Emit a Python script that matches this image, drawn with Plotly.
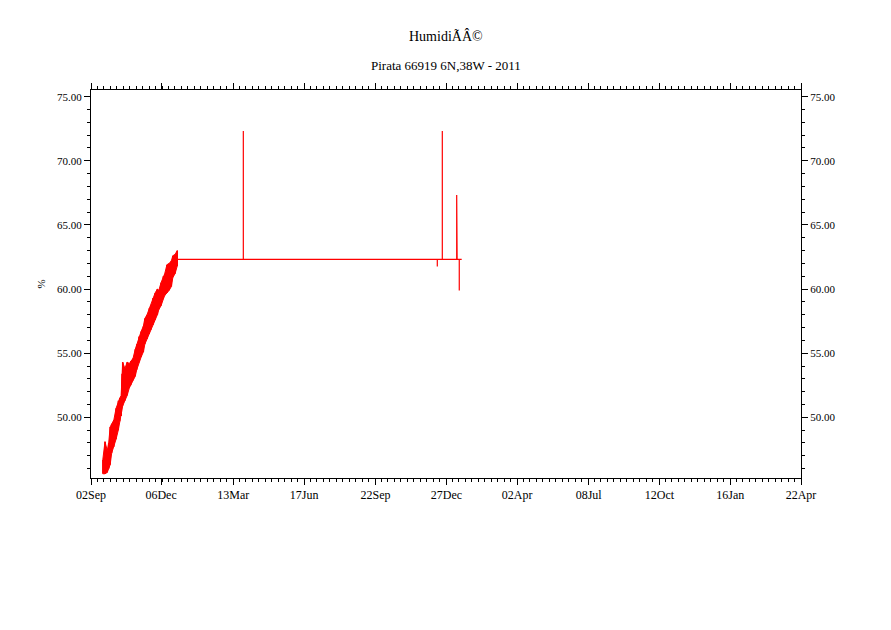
import pandas as pd
import plotly.graph_objects as go

# ---------------------------------------------------------------------------
# Data
# ---------------------------------------------------------------------------
START = "2011-09-02"
END = "2014-04-22"

# rising part: daily envelope (days since START, low / high humidity %)
band_days = [16, 19, 22, 24, 26, 28, 31, 34, 37, 39, 41, 42, 43, 46, 49, 52, 54, 57, 60, 62,
             65, 68, 71, 73, 76, 79, 81, 84, 87, 90, 92, 95, 98, 100, 103, 106, 109, 111, 114, 117]
band_lo = [45.6, 45.6, 45.7, 46.0, 46.3, 47.2, 47.7, 48.3, 49.0, 49.7,
           50.1, 50.5, 50.9, 51.3, 51.7, 52.3, 52.5, 52.9, 53.2, 53.7,
           54.3, 54.7, 55.1, 55.7, 56.1, 56.5, 56.8, 57.2, 57.6, 58.0,
           58.4, 58.7, 59.2, 59.5, 59.7, 59.9, 60.2, 60.9, 61.2, 61.8]
band_hi = [46.7, 48.1, 47.4, 48.0, 49.25, 49.5, 49.8, 50.7, 51.3, 51.5,
           51.7, 53.4, 54.3, 53.8, 54.3, 54.2, 54.4, 54.6, 55.3, 55.7,
           56.3, 56.7, 57.1, 57.7, 58.0, 58.5, 58.7, 59.3, 59.7, 60.0,
           59.9, 60.5, 61.0, 61.2, 61.9, 62.0, 62.2, 62.6, 62.7, 63.0]

# flat part with isolated spikes
flat_days = [117.5, 206.6, 206.6, 206.6, 469.7, 469.7, 469.7, 476.5, 476.5, 476.5,
             496.0, 496.0, 496.0, 496.6, 496.6, 496.6, 499.5, 499.5, 499.5, 502.8]
flat_vals = [62.32, 62.32, 72.33, 62.32, 62.32, 61.75, 62.32, 62.32, 72.33, 62.32,
             62.32, 67.34, 62.32, 62.32, 63.60, 62.32, 62.32, 59.88, 62.32, 62.32]

tick_dates = ["2011-09-02", "2011-12-06", "2012-03-13", "2012-06-17", "2012-09-22", "2012-12-27",
              "2013-04-02", "2013-07-08", "2013-10-12", "2014-01-16", "2014-04-22"]
tick_labels = ["02Sep", "06Dec", "13Mar", "17Jun", "22Sep", "27Dec",
               "02Apr", "08Jul", "12Oct", "16Jan", "22Apr"]

Y_RANGE = [45.27, 75.52]
RED = "#ff0000"
FONT = "Liberation Serif"


def to_dates(days):
    return pd.Timestamp(START) + pd.to_timedelta(days, unit="D")


band_x = to_dates(band_days)
flat_x = to_dates(flat_days)

# zig-zag through the envelope so the band looks like dense hourly data
zig_x, zig_y = [], []
for x, lo, hi in zip(band_x, band_lo, band_hi):
    zig_x += [x, x]
    zig_y += [lo, hi]

fig = go.Figure()
fig.add_trace(go.Scatter(x=band_x, y=band_lo, mode="lines",
                         line=dict(color=RED, width=1), showlegend=False, hoverinfo="skip"))
fig.add_trace(go.Scatter(x=band_x, y=band_hi, mode="lines", fill="tonexty", fillcolor=RED,
                         line=dict(color=RED, width=1), showlegend=False, hoverinfo="skip"))
fig.add_trace(go.Scatter(x=zig_x, y=zig_y, mode="lines",
                         line=dict(color=RED, width=1.5), showlegend=False))
fig.add_trace(go.Scatter(x=flat_x, y=flat_vals, mode="lines",
                         line=dict(color=RED, width=1.2), showlegend=False))
# empty trace so the mirrored top / right axes get drawn
fig.add_trace(go.Scatter(x=[band_x[0]], y=[None], xaxis="x2", yaxis="y2",
                         showlegend=False, hoverinfo="skip"))

minor_dt = 963 / 110 * 86400000

common_x = dict(
    type="date", range=[START, END], showgrid=False, zeroline=False,
    showline=True, linecolor="black", linewidth=1,
    ticks="outside", ticklen=6, tickcolor="black", tickwidth=1,
    tickvals=tick_dates,
    minor=dict(ticks="outside", ticklen=3, tickcolor="black", dtick=minor_dt, tick0=START),
)
common_y = dict(
    range=Y_RANGE, showgrid=False, zeroline=False,
    showline=True, linecolor="black", linewidth=1,
    ticks="outside", ticklen=6, tickcolor="black", tickwidth=1,
    tick0=50, dtick=5, tickformat=".2f",
    minor=dict(ticks="outside", ticklen=3, tickcolor="black", dtick=1),
)

# the page body adds an 8px offset, so the figure is sized to fit inside it
fig.update_layout(
    width=883, height=622,
    paper_bgcolor="white", plot_bgcolor="white",
    font=dict(family=FONT, color="black", size=11),
    margin=dict(l=83, r=90, t=82, b=152),
    showlegend=False,
    xaxis=dict(**common_x, ticktext=tick_labels, tickfont=dict(size=12)),
    xaxis2=dict(**common_x, overlaying="x", side="top", anchor="y2",
                showticklabels=False),
    yaxis=dict(**common_y, title=dict(text="%", font=dict(size=11), standoff=9),
               tickfont=dict(size=11)),
    yaxis2=dict(**common_y, overlaying="y", side="right", anchor="x2",
                tickfont=dict(size=11)),
    annotations=[
        dict(text="HumidiÃÂ©", x=0.5, y=1 + 54 / 388, xref="paper", yref="paper",
             xanchor="center", yanchor="middle", showarrow=False,
             font=dict(size=14, family=FONT)),
        dict(text="Pirata 66919 6N,38W - 2011", x=0.5, y=1 + 25 / 388,
             xref="paper", yref="paper", xanchor="center", yanchor="middle",
             showarrow=False, font=dict(size=13, family=FONT)),
    ],
)

fig.write_html("out.html")
